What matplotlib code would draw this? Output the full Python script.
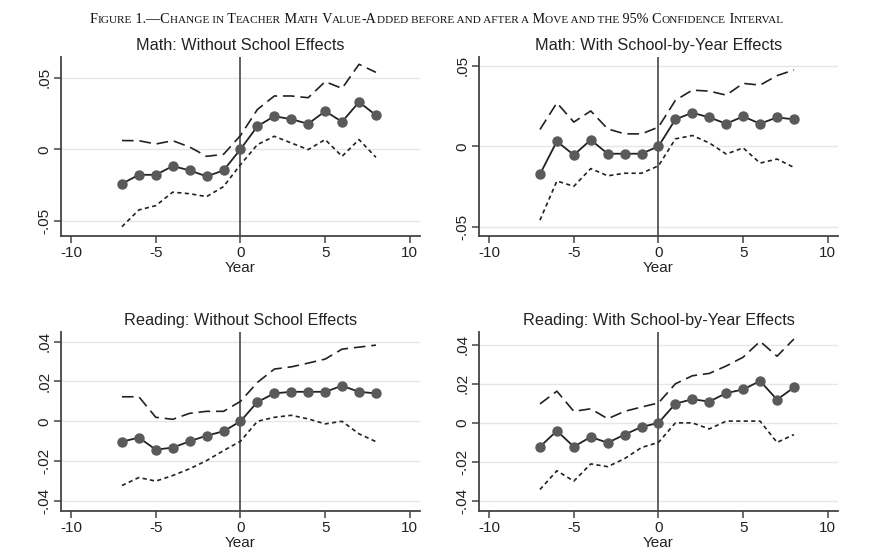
import matplotlib
matplotlib.use('Agg')
import matplotlib.pyplot as plt
from matplotlib.ticker import FuncFormatter

plt.rcParams['font.family'] = ['Liberation Sans', 'DejaVu Sans']
plt.rcParams['axes.unicode_minus'] = False

years = list(range(-7, 9))

# Math: without school effects
m1_est = [-0.024, -0.0178, -0.0178, -0.0117, -0.0147, -0.0189, -0.0147, 0.0,
          0.0161, 0.0231, 0.021, 0.0178, 0.0266, 0.0192, 0.033, 0.0238]
m1_hi = [0.0061, 0.006, 0.0037, 0.006, 0.0016, -0.0049, -0.0035, 0.0096,
         0.0278, 0.0372, 0.0372, 0.036, 0.0472, 0.0425, 0.0593, 0.0537]
m1_lo = [-0.054, -0.0423, -0.0393, -0.0299, -0.031, -0.033, -0.026, -0.0107,
         0.0033, 0.0091, 0.0044, -0.0002, 0.0068, -0.0049, 0.0068, -0.0056]

# Math: with school-by-year effects
m2_est = [-0.0173, 0.0031, -0.0054, 0.004, -0.0046, -0.0046, -0.0046, 0.0,
          0.0167, 0.0208, 0.0179, 0.014, 0.0185, 0.014, 0.0179, 0.0167]
m2_hi = [0.0104, 0.0269, 0.015, 0.0219, 0.0108, 0.0077, 0.0077, 0.0119,
         0.0285, 0.0348, 0.0342, 0.0317, 0.039, 0.0379, 0.0438, 0.0473]
m2_lo = [-0.0458, -0.0215, -0.0248, -0.0138, -0.0183, -0.0167, -0.0167, -0.0121,
         0.0046, 0.0067, 0.0021, -0.0048, -0.001, -0.0104, -0.0079, -0.0131]

# Reading: without school effects
r1_est = [-0.0102, -0.0082, -0.0142, -0.0132, -0.01, -0.0072, -0.005, 0.0,
          0.0097, 0.014, 0.0148, 0.0148, 0.0148, 0.0178, 0.0148, 0.014]
r1_hi = [0.0123, 0.0123, 0.002, 0.001, 0.004, 0.005, 0.005, 0.01,
         0.0195, 0.0262, 0.0273, 0.0292, 0.0312, 0.0362, 0.0372, 0.0382]
r1_lo = [-0.0322, -0.0282, -0.03, -0.0272, -0.0238, -0.0197, -0.0147, -0.01,
         0.0, 0.002, 0.003, 0.0012, -0.0013, 0.0, -0.0063, -0.0102]

# Reading: with school-by-year effects
r2_est = [-0.0122, -0.0041, -0.0122, -0.0072, -0.0102, -0.006, -0.0021, 0.0,
          0.0098, 0.0121, 0.0109, 0.0152, 0.0171, 0.0214, 0.0119, 0.0181]
r2_hi = [0.0097, 0.0162, 0.0059, 0.0072, 0.0021, 0.0059, 0.0081, 0.0102,
         0.02, 0.0241, 0.0253, 0.0291, 0.0336, 0.0417, 0.0341, 0.0429]
r2_lo = [-0.0341, -0.0245, -0.0298, -0.021, -0.0224, -0.0183, -0.0126, -0.01,
         0.0, 0.0, -0.0031, 0.0009, 0.0009, 0.0009, -0.01, -0.006]

titles = ['Math: Without School Effects', 'Math: With School-by-Year Effects',
          'Reading: Without School Effects', 'Reading: With School-by-Year Effects']
yticks_math = [-0.05, 0, 0.05]
yticks_read = [-0.04, -0.02, 0, 0.02, 0.04]


def stata_fmt(v, pos):
    if abs(v) < 1e-9:
        return '0'
    s = ('%g' % v)
    return s.replace('0.', '.')


panels = [
    # (left, bottom, est, hi, lo, ylim, yticks)
    (0.0686, 0.5732, m1_est, m1_hi, m1_lo, (-0.0605, 0.0647), yticks_math),
    (0.5388, 0.5732, m2_est, m2_hi, m2_lo, (-0.0556, 0.0556), yticks_math),
    (0.0686, 0.0759, r1_est, r1_hi, r1_lo, (-0.045, 0.045), yticks_read),
    (0.5388, 0.0759, r2_est, r2_hi, r2_lo, (-0.0451, 0.0467), yticks_read),
]

fig = plt.figure(figsize=(8.89, 5.53), dpi=100)
axcol = '#444444'

for i, (l, b, est, hi, lo, yl, yt) in enumerate(panels):
    ax = fig.add_axes([l, b, 0.4038, 0.3245])
    for y in yt:
        ax.axhline(y, color='#e6e6e6', lw=1.0, zorder=0)
    ax.axvline(0, color='#555555', lw=1.3, zorder=1)
    ax.plot(years, hi, color='#222222', lw=1.2, dashes=(7, 3.5), zorder=2)
    ax.plot(years, lo, color='#222222', lw=1.2, dashes=(2.5, 2), zorder=2)
    ax.plot(years, est, color='#222222', lw=1.3, marker='o', ms=6.5,
            mfc='#5a5a5a', mec='#5a5a5a', zorder=3)
    ax.set_xlim(-10.6, 10.6)
    ax.set_ylim(*yl)
    ax.set_xticks([-10, -5, 0, 5, 10])
    ax.set_yticks(yt)
    ax.yaxis.set_major_formatter(FuncFormatter(stata_fmt))
    for t in ax.get_yticklabels():
        t.set_rotation(90)
        t.set_va('center')
    ax.tick_params(axis='both', labelsize=11, color=axcol, length=5,
                   width=1.1, labelcolor='#222222', pad=2)
    for s in ['top', 'right']:
        ax.spines[s].set_visible(False)
    for s in ['left', 'bottom']:
        ax.spines[s].set_color(axcol)
        ax.spines[s].set_linewidth(1.3)
    ax.set_xlabel('Year', fontsize=11, labelpad=1, color='#222222')
    ax.set_title(titles[i], fontsize=11.7, pad=5, color='#222222')

# small caps figure title
big, small = 10.2, 8.1
pieces = [('F', big), ('IGURE', small), (' 1.\u2014C', big), ('HANGE IN', small),
          (' T', big), ('EACHER', small), (' M', big), ('ATH', small),
          (' V', big), ('ALUE', small), ('-A', big), ('DDED BEFORE AND AFTER A', small),
          (' M', big), ('OVE AND THE', small), (' 95% C', big), ('ONFIDENCE', small),
          (' I', big), ('NTERVAL', small)]
renderer = fig.canvas.get_renderer()
texts = []
total = 0
for s, size in pieces:
    t = fig.text(0, 0.958, s, fontsize=size, family='Liberation Serif',
                 va='baseline', ha='left', color='#111111')
    w = t.get_window_extent(renderer).width
    texts.append((t, w))
    total += w
x = 437 - total / 2
for t, w in texts:
    t.set_x(x / fig.bbox.width)
    x += w

fig.savefig('out.png', dpi=100)
